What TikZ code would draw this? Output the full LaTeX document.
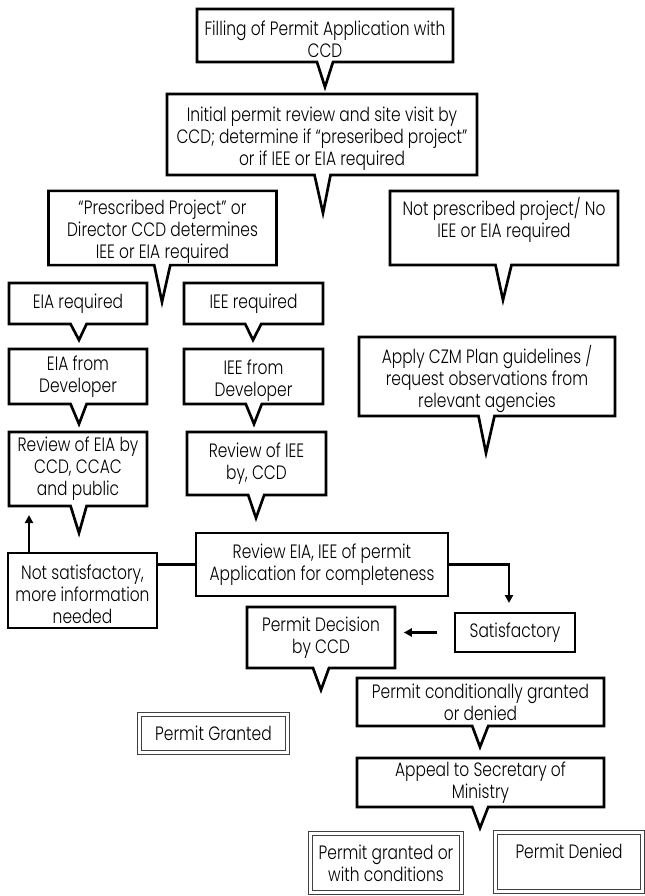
\documentclass[tikz,border=0pt]{standalone}
\usepackage{fontspec}
\setmainfont{Poppins}[UprightFont = * Light, FakeStretch=0.8]
\usetikzlibrary{arrows.meta}
\usetikzlibrary{shapes.callouts}
\newcommand{\topstrut}{\rule{0pt}{17pt}}

\begin{document}
\begin{tikzpicture}[
                x = 0.75pt, y = -0.75pt,
                every node/.style = {font = \fontsize{14.5}{16.5}\selectfont, align = center, inner sep = 1pt},
                boxsize/.style 2 args = {minimum width = #1*0.75pt, minimum height = #2*0.75pt},
                callbox/.style = {rectangle callout, draw, line width = 2pt, callout pointer width = 12pt},
                plainbox/.style = {rectangle, draw, line width = 2pt},
                endbox/.style = {rectangle, draw = black!75, double, line width = 0.6pt, double distance = 2.6pt},
                arr/.style = {draw, line width = 2pt, -{Triangle[length = 6pt, width = 6pt]}},
                link/.style = {draw, line width = 2pt},
            ]
            \useasboundingbox (0,0) rectangle (645,896);

            \node (fill) [callbox, boxsize={256}{53}, callout absolute pointer={(325,87)}] at (325,35.5)
                {\topstrut Filling of Permit Application with\\CCD};
            \node (init) [callbox, boxsize={310}{81}, callout absolute pointer={(323,213)}] at (322,134.5)
                {\topstrut Initial permit review and site visit by\\CCD; determine if ``preseribed project''\\or if IEE or EIA required};
            \node (presc) [callbox, boxsize={228}{74}, callout absolute pointer={(162,302)}] at (162.5,228)
                {\topstrut ``Prescribed Project'' or\\Director CCD determines\\IEE or EIA required};
            \node (notpresc) [callbox, boxsize={228}{74}, callout absolute pointer={(503,300)}] at (504,228)
                {Not prescribed project/ No\\IEE or EIA required\\~};

            \node (eiareq) [callbox, boxsize={138}{41}, callout absolute pointer={(79,340)}] at (78,303.5) {EIA required};
            \node (ieereq) [callbox, boxsize={139}{41}, callout absolute pointer={(253,340)}] at (253.5,303.5) {IEE required};
            \node (eiadev) [callbox, boxsize={138}{55}, callout absolute pointer={(79,424)}] at (78,376.5) {EIA from\\Developer};
            \node (ieedev) [callbox, boxsize={139}{55}, callout absolute pointer={(254,424)}] at (253.5,376.5) {\topstrut IEE from\\Developer};
            \node (czm) [callbox, boxsize={256}{79}, callout absolute pointer={(486,453)}] at (487,376.5)
                {\topstrut Apply CZM Plan guidelines /\\request observations from\\relevant agencies};
            \node (reveia) [callbox, boxsize={138}{74}, callout absolute pointer={(79,533)}] at (78,469)
                {Review of EIA by\\CCD, CCAC\\and public};
            \node (reviee) [callbox, boxsize={139}{63}, callout absolute pointer={(256,518)}] at (256.5,463.5)
                {Review of IEE\\by, CCD};

            \node (revapp) [plainbox, boxsize={252}{63}] at (322,564.5) {Review EIA, IEE of permit\\Application for completeness};
            \node (notsat) [plainbox, boxsize={149}{75}] at (82.5,590.5) {\topstrut Not satisfactory,\\more information\\needed};
            \node (decision) [callbox, boxsize={148}{61}, callout absolute pointer={(321,690)}] at (321,637.5)
                {Permit Decision\\by CCD};
            \node (sat) [plainbox, boxsize={120}{39}] at (515,632.5) {Satisfactory};
            \node (cond) [callbox, boxsize={247}{48}, callout absolute pointer={(480,747)}] at (480.5,702)
                {Permit conditionally granted\\or denied};
            \node (appeal) [callbox, boxsize={247}{49}, callout absolute pointer={(480,828)}] at (480.5,782.5)
                {Appeal to Secretary of\\Ministry};

            \node (granted) [endbox, boxsize={148}{38}] at (213.5,733.5) {Permit Granted};
            \node (grcond) [endbox, boxsize={150.5}{59}] at (386,863) {Permit granted or\\with conditions};
            \node (denied) [endbox, boxsize={147}{59}] at (569,862) {Permit Denied\\~};

            \coordinate (back) at (29,515);
            \coordinate (satin) at (509,603);

            \path[arr] (notsat.north -| back) -- (back);
            \path[link] (notsat.east |- revapp.west) -- (revapp.west);
            \path[arr] (revapp.east) -| (satin);
            \path[arr, shorten <= 12.75pt, shorten >= 5.6pt] (sat.west) -- (sat.west -| decision.east);
        \end{tikzpicture}
\end{document}
